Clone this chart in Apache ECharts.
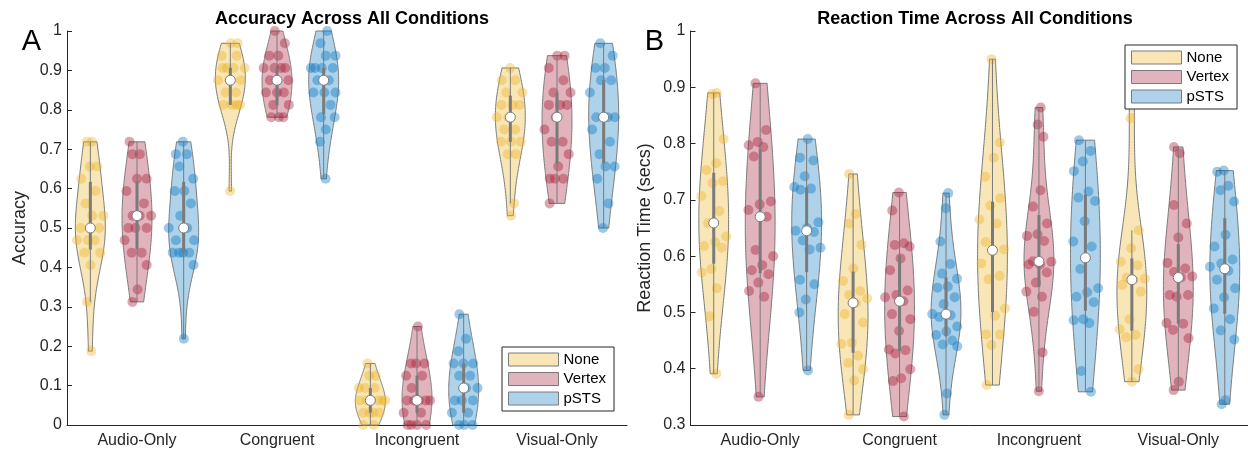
<!DOCTYPE html>
<html><head><meta charset="utf-8">
<script src="https://cdn.jsdelivr.net/npm/echarts@6/dist/echarts.min.js"></script>
<style>html,body{margin:0;padding:0;background:#fff}#c{width:1248px;height:452px}</style>
</head><body><div id="c"></div>
<script>
// ---------------- data ----------------
const categories = ['Audio-Only', 'Congruent', 'Incongruent', 'Visual-Only'];
const treatments = ['None', 'Vertex', 'pSTS'];

// Accuracy (proportion correct), one sub-array per condition (Audio, Congruent, Incongruent, Visual)
const accNone = [
  [0.71875,0.71875,0.65625,0.65625,0.625,0.59375,0.5625,0.53125,0.53125,0.5,0.5,0.46875,0.46875,0.46875,0.4375,0.4375,0.40625,0.3125,0.1875],
  [0.96875,0.96875,0.9375,0.9375,0.90625,0.90625,0.90625,0.90625,0.875,0.875,0.875,0.84375,0.84375,0.8125,0.8125,0.8125,0.8125,0.59375],
  [0.15625,0.125,0.125,0.09375,0.09375,0.09375,0.0625,0.0625,0.0625,0.0625,0.0625,0.0625,0.03125,0.03125,0.03125,0.03125,0,0],
  [0.90625,0.875,0.875,0.84375,0.84375,0.8125,0.8125,0.8125,0.78125,0.78125,0.75,0.75,0.71875,0.71875,0.71875,0.6875,0.6875,0.5625,0.53125]
];
const accVertex = [
  [0.71875,0.6875,0.6875,0.625,0.625,0.59375,0.5625,0.53125,0.53125,0.53125,0.5,0.5,0.5,0.46875,0.4375,0.4375,0.40625,0.34375,0.3125],
  [1,0.96875,0.9375,0.9375,0.90625,0.90625,0.90625,0.90625,0.875,0.875,0.84375,0.84375,0.84375,0.8125,0.8125,0.78125,0.78125,0.78125],
  [0.25,0.15625,0.15625,0.15625,0.125,0.125,0.09375,0.0625,0.0625,0.0625,0.0625,0.0625,0.03125,0.03125,0,0,0,0],
  [0.9375,0.9375,0.90625,0.875,0.84375,0.84375,0.8125,0.8125,0.8125,0.78125,0.75,0.71875,0.71875,0.6875,0.65625,0.625,0.625,0.625,0.5625]
];
const accPsts = [
  [0.71875,0.6875,0.6875,0.65625,0.625,0.59375,0.59375,0.5625,0.53125,0.5,0.5,0.46875,0.46875,0.4375,0.4375,0.4375,0.4375,0.40625,0.21875],
  [1,0.96875,0.9375,0.9375,0.90625,0.90625,0.90625,0.90625,0.875,0.875,0.84375,0.84375,0.84375,0.8125,0.78125,0.78125,0.75,0.71875,0.625],
  [0.28125,0.21875,0.1875,0.15625,0.15625,0.15625,0.125,0.125,0.09375,0.09375,0.0625,0.0625,0.0625,0.03125,0.03125,0,0,0],
  [0.96875,0.9375,0.90625,0.90625,0.875,0.875,0.84375,0.78125,0.78125,0.78125,0.78125,0.75,0.71875,0.6875,0.65625,0.65625,0.625,0.5625,0.5]
];

// Reaction time (secs)
const rtNone = [
  [0.89,0.888,0.808,0.765,0.753,0.733,0.73,0.707,0.68,0.659,0.635,0.625,0.618,0.615,0.577,0.571,0.543,0.493,0.391],
  [0.746,0.675,0.658,0.62,0.578,0.556,0.538,0.531,0.525,0.517,0.497,0.482,0.446,0.444,0.423,0.41,0.399,0.379,0.318],
  [0.95,0.802,0.775,0.741,0.703,0.69,0.665,0.658,0.625,0.612,0.609,0.587,0.565,0.559,0.507,0.494,0.461,0.461,0.442,0.371],
  [0.92,0.845,0.646,0.614,0.59,0.584,0.562,0.56,0.558,0.549,0.537,0.488,0.47,0.46,0.456,0.399,0.377]
];
const rtVertex = [
  [0.907,0.824,0.803,0.797,0.794,0.777,0.697,0.692,0.682,0.67,0.611,0.6,0.584,0.575,0.568,0.553,0.538,0.528,0.35],
  [0.713,0.681,0.623,0.62,0.617,0.596,0.575,0.539,0.531,0.527,0.52,0.497,0.488,0.467,0.434,0.433,0.427,0.399,0.383,0.378,0.315],
  [0.864,0.834,0.812,0.717,0.688,0.658,0.639,0.636,0.627,0.591,0.59,0.585,0.585,0.571,0.553,0.537,0.528,0.501,0.429,0.36],
  [0.794,0.783,0.691,0.658,0.633,0.588,0.578,0.572,0.564,0.562,0.531,0.531,0.528,0.481,0.48,0.469,0.454,0.377,0.362]
];
const rtPsts = [
  [0.808,0.775,0.77,0.742,0.723,0.72,0.718,0.66,0.65,0.645,0.643,0.628,0.615,0.612,0.558,0.55,0.523,0.5,0.397],
  [0.712,0.685,0.626,0.586,0.569,0.56,0.546,0.544,0.527,0.515,0.497,0.495,0.492,0.475,0.466,0.46,0.45,0.443,0.44,0.356,0.318],
  [0.806,0.787,0.768,0.751,0.715,0.704,0.698,0.662,0.626,0.617,0.577,0.543,0.536,0.528,0.518,0.488,0.486,0.481,0.396,0.359],
  [0.752,0.75,0.725,0.717,0.697,0.638,0.617,0.594,0.587,0.581,0.574,0.558,0.543,0.527,0.507,0.488,0.468,0.452,0.344,0.337]
];

// ---------------- style ----------------
const FONT = '"Liberation Sans", Arial, Helvetica, sans-serif';
const AXIS = '#262626';
const GRAYLINE = '#7a7a7a';
const colors = ['#EDB120', '#A2142F', '#0072BD'];
const FILL_ALPHA = 0.32, POINT_ALPHA = 0.38;
const HALF_W = 0.107;      // max violin half width in x units (1 unit = one condition)
const BW_SCALE = 1.5;      // kernel bandwidth multiplier
const OFFSETS = [-1/3, 0, 1/3];

function rgba(hex, a) {
  const n = parseInt(hex.slice(1), 16);
  return 'rgba(' + (n >> 16 & 255) + ',' + (n >> 8 & 255) + ',' + (n & 255) + ',' + a + ')';
}

// ---------------- stats (MATLAB-like) ----------------
function quantile(sorted, p) {
  const n = sorted.length, pos = p * n + 0.5;
  if (pos <= 1) return sorted[0];
  if (pos >= n) return sorted[n - 1];
  const lo = Math.floor(pos), f = pos - lo;
  return sorted[lo - 1] + f * (sorted[lo] - sorted[lo - 1]);
}
function groupStats(vals) {
  const s = vals.slice().sort((a, b) => a - b);
  const n = s.length, mn = s[0], mx = s[n - 1];
  const med = quantile(s, 0.5), q1 = quantile(s, 0.25), q3 = quantile(s, 0.75);
  const dev = s.map(v => Math.abs(v - med)).sort((a, b) => a - b);
  let sig = quantile(dev, 0.5) / 0.6745;
  if (!(sig > 0)) sig = (mx - mn) / 4 || 0.01;
  const bw = BW_SCALE * sig * Math.pow(4 / (3 * n), 0.2);
  const ys = [], d = [];
  const M = 100;
  for (let i = 0; i <= M; i++) {
    const y = mn + (mx - mn) * i / M;
    let sum = 0;
    for (const v of s) { const z = (y - v) / bw; sum += Math.exp(-0.5 * z * z); }
    ys.push(y); d.push(sum);
  }
  const dmax = Math.max(...d);
  const w = d.map(x => x / dmax * HALF_W);
  const iqr = q3 - q1;
  let lowW = q1 - 1.5 * iqr;
  const above = s.filter(v => v > lowW); lowW = Math.max(lowW, above.length ? Math.min(...above) : lowW);
  let hiW = q3 + 1.5 * iqr;
  const below = s.filter(v => v < hiW); hiW = Math.min(hiW, below.length ? Math.max(...below) : hiW);
  return { s, med, q1, q3, lowW, hiW, ys, w, mn, mx };
}
function widthAt(st, v) {
  if (st.mx === st.mn) return st.w[0];
  const t = (v - st.mn) / (st.mx - st.mn) * (st.ys.length - 1);
  const i = Math.min(Math.floor(t), st.ys.length - 2), f = t - i;
  return st.w[i] * (1 - f) + st.w[i + 1] * f;
}

const panels = [
  { sets: [accNone, accVertex, accPsts], yMin: 0, yMax: 1, yName: 'Accuracy',
    title: 'Accuracy Across All Conditions', letter: 'A', left: 67, nameGap: 38, titleX: 347, letterX: 31.5,
    legend: { left: 502, top: 347 } },
  { sets: [rtNone, rtVertex, rtPsts], yMin: 0.3, yMax: 1, yName: 'Reaction Time (secs)',
    title: 'Reaction Time Across All Conditions', letter: 'B', left: 690.5, nameGap: 36, titleX: 970, letterX: 654.5,
    legend: { left: 1125, top: 45 } }
];
const stats = panels.map(p => p.sets.map(set => set.map(groupStats)));

// ---------------- option ----------------
const grid = [], xAxis = [], yAxis = [], series = [], title = [], legend = [], graphic = [];
panels.forEach((p, pi) => {
  grid.push({ left: p.left, top: 31, width: 560, height: 394 });
  xAxis.push({
    type: 'category', gridIndex: pi, data: categories,
    axisLine: { lineStyle: { color: AXIS, width: 1 } },
    axisTick: { alignWithLabel: true, inside: true, length: 5, lineStyle: { color: AXIS } },
    axisLabel: { color: AXIS, fontSize: 16, fontFamily: FONT, margin: 8 },
    splitLine: { show: false }
  });
  xAxis.push({ type: 'value', gridIndex: pi, min: 0.5, max: 4.5, show: false });
  yAxis.push({
    type: 'value', gridIndex: pi, min: p.yMin, max: p.yMax, interval: 0.1,
    name: p.yName, nameLocation: 'middle', nameGap: p.nameGap, nameRotate: 90,
    nameTextStyle: { color: AXIS, fontSize: 18, fontFamily: FONT },
    axisLine: { show: true, lineStyle: { color: AXIS, width: 1 } },
    axisTick: { show: true, inside: true, length: 5, lineStyle: { color: AXIS } },
    axisLabel: { color: AXIS, fontSize: 16, fontFamily: FONT, margin: 5 },
    splitLine: { show: false }
  });
  title.push({
    text: p.title, left: p.titleX, top: 5, textAlign: 'center',
    textStyle: { fontSize: 18, fontWeight: 'bold', color: '#000', fontFamily: FONT }
  });
  graphic.push({
    type: 'text', x: p.letterX, y: 42,
    style: { text: p.letter, fill: '#000', font: '29px ' + FONT, align: 'center', verticalAlign: 'middle' }
  });
  legend.push({
    orient: 'vertical', left: p.legend.left, top: p.legend.top,
    itemWidth: 50, itemHeight: 13, itemGap: 4.5, icon: 'rect', selectedMode: false,
    padding: [5, 8, 5, 6], backgroundColor: '#fff', borderColor: AXIS, borderWidth: 1,
    textStyle: { fontSize: 15, color: '#000', fontFamily: FONT },
    data: treatments.map((t, ti) => ({
      name: t, icon: 'rect',
      itemStyle: { color: rgba(colors[ti], FILL_ALPHA), borderColor: GRAYLINE, borderWidth: 1 }
    })),
    z: 10
  });

  treatments.forEach((tname, ti) => {
    const st = stats[pi][ti];
    const baseData = categories.map((c, ci) => [ci + 1 + OFFSETS[ti], st[ci].med, ci]);
    // violin bodies
    series.push({
      type: 'custom', name: tname, xAxisIndex: pi * 2 + 1, yAxisIndex: pi, z: 1,
      encode: { x: 0, y: 1 }, data: baseData, silent: true,
      itemStyle: { color: rgba(colors[ti], FILL_ALPHA) },
      renderItem: (params, api) => {
        const ci = api.value(2), xc = api.value(0), g = st[ci];
        const pts = [];
        for (let i = 0; i < g.ys.length; i++) pts.push(api.coord([xc + g.w[i], g.ys[i]]));
        for (let i = g.ys.length - 1; i >= 0; i--) pts.push(api.coord([xc - g.w[i], g.ys[i]]));
        return { type: 'polygon', shape: { points: pts },
          style: { fill: rgba(colors[ti], FILL_ALPHA), stroke: GRAYLINE, lineWidth: 1 } };
      }
    });
    // jittered points (deterministic jitter scaled by the density width)
    const pts = [];
    p.sets[ti].forEach((vals, ci) => {
      const xc = ci + 1 + OFFSETS[ti];
      vals.forEach((v, i) => {
        const frac = ((i + 1) * 0.6180339887 + ci * 0.29 + ti * 0.41 + pi * 0.13) % 1;
        const j = frac * 2 - 1;
        pts.push([xc + j * widthAt(st[ci], v), v]);
      });
    });
    series.push({
      type: 'scatter', name: tname, xAxisIndex: pi * 2 + 1, yAxisIndex: pi, z: 2,
      data: pts, symbolSize: 10, silent: true,
      itemStyle: { color: colors[ti], opacity: POINT_ALPHA, borderWidth: 0 }
    });
    // box + whiskers
    series.push({
      type: 'custom', name: tname, xAxisIndex: pi * 2 + 1, yAxisIndex: pi, z: 3,
      encode: { x: 0, y: 1 }, data: baseData, silent: true,
      renderItem: (params, api) => {
        const ci = api.value(2), xc = api.value(0), g = st[ci];
        const a = api.coord([xc, g.hiW]), b = api.coord([xc, g.lowW]);
        const c3 = api.coord([xc, g.q3]), c1 = api.coord([xc, g.q1]);
        return { type: 'group', children: [
          { type: 'line', shape: { x1: a[0], y1: a[1], x2: b[0], y2: b[1] }, style: { stroke: GRAYLINE, lineWidth: 1 } },
          { type: 'rect', shape: { x: c3[0] - 1.5, y: c3[1], width: 3, height: c1[1] - c3[1] }, style: { fill: GRAYLINE } }
        ] };
      }
    });
    // medians
    series.push({
      type: 'scatter', name: tname, xAxisIndex: pi * 2 + 1, yAxisIndex: pi, z: 4,
      data: baseData.map(d => [d[0], d[1]]), symbolSize: 10, silent: true,
      itemStyle: { color: '#fff', borderColor: GRAYLINE, borderWidth: 1, opacity: 1 }
    });
  });
});

const chart = echarts.init(document.getElementById('c'), null, { renderer: 'canvas' });
chart.setOption({
  animation: false, backgroundColor: '#fff',
  title, legend, grid, xAxis, yAxis, series, graphic
});
</script></body></html>
